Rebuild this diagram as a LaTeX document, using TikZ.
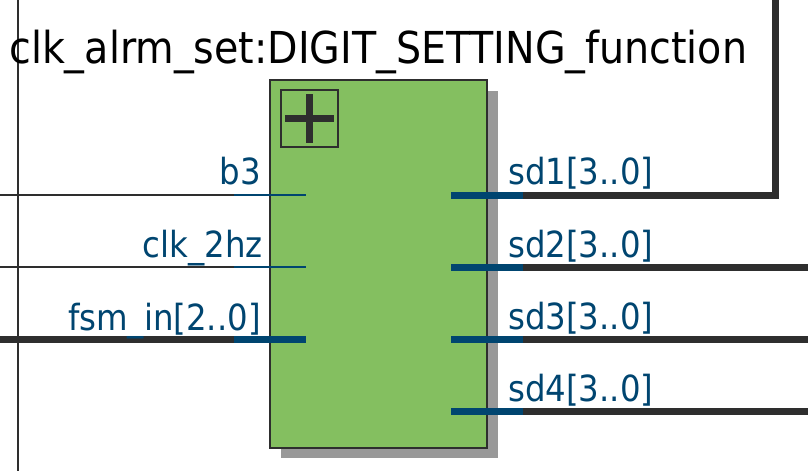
\documentclass[tikz,border=0pt]{standalone}
\usepackage{fontspec}
\setmainfont{DejaVu Sans Condensed}
\usepackage{xcolor}
\definecolor{BlockGreen}{HTML}{84BF60}
\definecolor{ShadowGray}{HTML}{999999}
\definecolor{WireDark}{HTML}{2E2E2E}
\definecolor{PortBlue}{HTML}{004570}
\tikzset{
  thinwire/.style={draw=WireDark,line width=1.2pt},
  buswire/.style={draw=WireDark,line width=5.25pt},
  thinport/.style={draw=PortBlue,line width=1.2pt},
  busport/.style={draw=PortBlue,line width=5.25pt},
  portlabel/.style={text=PortBlue,font=\fontsize{27}{29}\selectfont,inner sep=0pt},
}
\begin{document}
\begin{tikzpicture}[x=0.75pt,y=-0.75pt]
  \useasboundingbox (0,0) rectangle (808,471);
  % wire that runs behind the block
  \coordinate (railtop) at (18,0);
  \coordinate (railbot) at (18,471);
  \draw[thinwire,line width=1.5pt] (railtop)--(railbot);
  % block
  \node[rectangle,fill=ShadowGray,anchor=north west,inner sep=0pt,outer sep=0pt,
        minimum width=162.75pt,minimum height=275.6pt] (shade) at (281,91) {};
  \node[rectangle,fill=BlockGreen,draw=WireDark,line width=1.6pt,
        anchor=north west,inner sep=0pt,outer sep=0pt,
        minimum width=162.4pt,minimum height=275.8pt] (block) at (270.4,80.2) {};
  \node[rectangle,draw=WireDark,line width=1.6pt,anchor=north west,inner sep=0pt,
        outer sep=0pt,minimum width=42.6pt,minimum height=42.6pt] (plusbox) at (281.3,90.3) {};
  \coordinate (plusl) at (285,118.5);
  \coordinate (plusr) at (334,118.5);
  \coordinate (plust) at (309.5,94);
  \coordinate (plusb) at (309.5,143);
  \draw[buswire] (plusl)--(plusr);
  \draw[buswire] (plust)--(plusb);
  % title
  \node[anchor=base west,inner sep=0pt,font=\fontsize{33}{36}\selectfont] (title)
    at (9,63) {clk\_alrm\_set:DIGIT\_SETTING\_function};
  % inputs
  \coordinate (b3in) at (0,195);
  \coordinate (b3mid) at (234,195);
  \coordinate (b3port) at (306,195);
  \coordinate (clkin) at (0,267);
  \coordinate (clkmid) at (234,267);
  \coordinate (clkport) at (306,267);
  \coordinate (fsmin) at (0,339.5);
  \coordinate (fsmmid) at (234,339.5);
  \coordinate (fsmport) at (306,339.5);
  \draw[thinwire] (b3in)--(b3mid);
  \draw[thinport] (b3mid)--(b3port);
  \draw[thinwire] (clkin)--(clkmid);
  \draw[thinport] (clkmid)--(clkport);
  \draw[buswire] (fsmin)--(fsmmid);
  \draw[busport] (fsmmid)--(fsmport);
  \node[portlabel,anchor=base east] (b3label) at (261,184) {b3};
  \node[portlabel,anchor=base east] (clklabel) at (263,257) {clk\_2hz};
  \node[portlabel,anchor=base east] (fsmlabel) at (261,330) {fsm\_in[2..0]};
  % outputs
  \coordinate (sd1port) at (451,195);
  \coordinate (sd1mid) at (523,195);
  \coordinate (sd1bend) at (775.7,195);
  \coordinate (sd1end) at (775.7,0);
  \coordinate (sd2port) at (451,267.5);
  \coordinate (sd2mid) at (523,267.5);
  \coordinate (sd2end) at (808,267.5);
  \coordinate (sd3port) at (451,339.5);
  \coordinate (sd3mid) at (523,339.5);
  \coordinate (sd3end) at (808,339.5);
  \coordinate (sd4port) at (451,411.5);
  \coordinate (sd4mid) at (523,411.5);
  \coordinate (sd4end) at (808,411.5);
  \draw[buswire] (sd1mid)--(sd1bend)--(sd1end);
  \draw[busport] (sd1port)--(sd1mid);
  \draw[buswire] (sd2mid)--(sd2end);
  \draw[busport] (sd2port)--(sd2mid);
  \draw[buswire] (sd3mid)--(sd3end);
  \draw[busport] (sd3port)--(sd3mid);
  \draw[buswire] (sd4mid)--(sd4end);
  \draw[busport] (sd4port)--(sd4mid);
  \node[portlabel,anchor=base west] (sd1label) at (508,184) {sd1[3..0]};
  \node[portlabel,anchor=base west] (sd2label) at (508,257) {sd2[3..0]};
  \node[portlabel,anchor=base west] (sd3label) at (508,329) {sd3[3..0]};
  \node[portlabel,anchor=base west] (sd4label) at (508,401) {sd4[3..0]};
\end{tikzpicture}
\end{document}
